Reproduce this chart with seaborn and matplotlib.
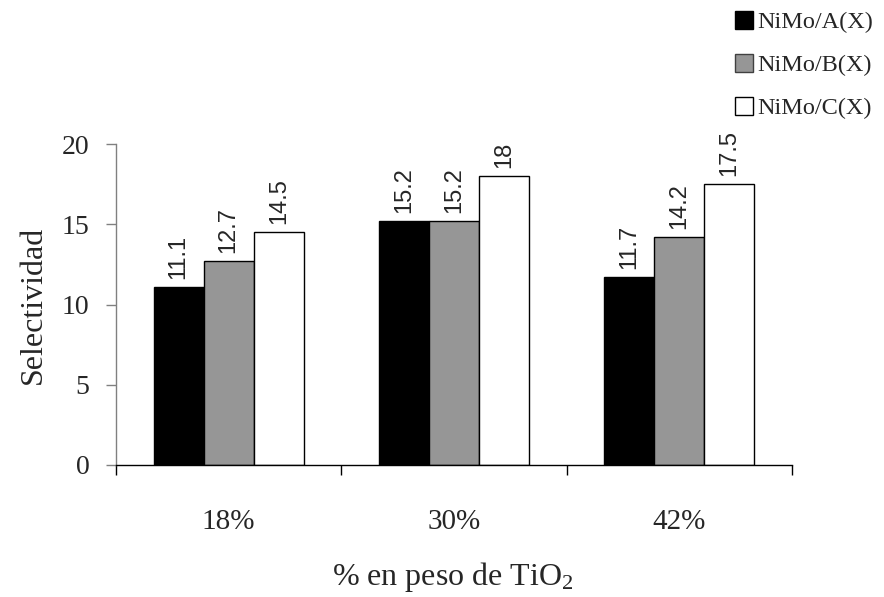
import matplotlib
matplotlib.use("Agg")
import matplotlib.pyplot as plt
import seaborn as sns
import pandas as pd
from matplotlib.patches import Patch

categories = ["18%", "30%", "42%"]
series = ["NiMo/A(X)", "NiMo/B(X)", "NiMo/C(X)"]
vals_a = [11.1, 15.2, 11.7]
vals_b = [12.7, 15.2, 14.2]
vals_c = [14.5, 18, 17.5]
colors = ["#000000", "#969696", "#ffffff"]

rows = []
for s, vals in zip(series, [vals_a, vals_b, vals_c]):
    for c, v in zip(categories, vals):
        rows.append({"cat": c, "serie": s, "val": v})
df = pd.DataFrame(rows)

sns.set_theme(style="white")
SERIF = "Liberation Serif"
plt.rcParams["font.family"] = [SERIF, "DejaVu Serif"]
plt.rcParams["mathtext.fontset"] = "custom"
plt.rcParams["mathtext.rm"] = SERIF
plt.rcParams["mathtext.default"] = "regular"

fig = plt.figure(figsize=(8.84, 5.97), dpi=100)
ax = fig.add_axes([116 / 884, 1 - 465 / 597, (792 - 116) / 884, (465 - 144) / 597])

sns.barplot(data=df, x="cat", y="val", hue="serie", order=categories,
            hue_order=series, palette=colors, width=0.667, gap=0,
            edgecolor="black", linewidth=1.0, saturation=1, ax=ax, legend=False)

for cont in ax.containers:
    ax.bar_label(cont, labels=[f"{v:g}" for v in cont.datavalues], rotation=90,
                 padding=6, fontsize=17, family="Liberation Sans")

ax.set_xlim(-0.5, 2.5)
ax.set_ylim(0, 20)
ax.set_yticks([0, 5, 10, 15, 20])
ax.tick_params(axis="y", which="major", direction="out", length=7, width=1,
               color="#808080", labelsize=20, pad=12, left=True)
ax.set_xticks([0, 1, 2])
ax.set_xticklabels(categories)
ax.set_xticks([-0.5, 0.5, 1.5, 2.5], minor=True)
ax.tick_params(axis="x", which="major", length=0, labelsize=21, pad=32)
ax.tick_params(axis="x", which="minor", direction="out", length=7, width=1,
               color="black", bottom=True)

for sp in ["top", "right"]:
    ax.spines[sp].set_visible(False)
ax.spines["left"].set_color("#808080")
ax.spines["left"].set_linewidth(1)
ax.spines["bottom"].set_color("black")
ax.spines["bottom"].set_linewidth(1)
ax.grid(False)

ax.set_ylabel("")
ax.set_xlabel("")
fig.text(33 / 884, 1 - 305 / 597, "Selectividad", rotation=90, fontsize=23,
         ha="center", va="center")
fig.text(453 / 884, 1 - 585 / 597, r"% en peso de TiO$_2$", fontsize=23,
         ha="center", va="baseline")

handles = [Patch(facecolor=c, edgecolor="black" if c != "#969696" else "#404040",
                 linewidth=1, label=s) for c, s in zip(colors, series)]
fig.legend(handles=handles, loc="upper right", bbox_to_anchor=(1.004, 1.006),
           frameon=False, fontsize=17.5, handlelength=0.75, handleheight=0.75,
           handletextpad=0.15, labelspacing=0.85, borderaxespad=0.2)

fig.savefig("out.png", dpi=100)
